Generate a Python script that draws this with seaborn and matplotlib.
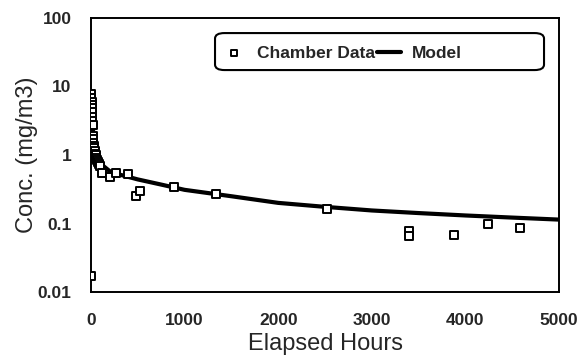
import numpy as np
import pandas as pd
import matplotlib
matplotlib.use('Agg')
import matplotlib.pyplot as plt
import seaborn as sns
from matplotlib.patches import FancyBboxPatch
from matplotlib.ticker import FixedLocator, FixedFormatter, NullLocator

sns.set_theme(style='white')
plt.rcParams['font.family'] = ['Liberation Sans', 'DejaVu Sans']

# Chamber measurements (hours, mg/m3)
chamber_hours = [5, 5, 8, 10, 10, 12, 15, 15, 18, 20, 22, 25, 30, 35, 40, 45,
                 50, 55, 60, 70, 85, 100, 120, 200, 270, 390, 485, 520, 890,
                 1340, 2520, 3400, 3400, 3880, 4240, 4580, 5]
chamber_conc = [7.8, 6.8, 6.0, 5.4, 4.8, 4.2, 3.6, 3.1, 2.7, 1.9, 1.7, 1.5, 1.35,
                1.25, 1.15, 1.05, 1.0, 0.9, 0.85, 0.8, 0.75, 0.68, 0.55, 0.48,
                0.55, 0.53, 0.25, 0.30, 0.34, 0.27, 0.165, 0.079, 0.066, 0.068,
                0.098, 0.085, 0.017]

# Model curve
model_hours = [0, 5, 10, 25, 50, 100, 200, 300, 500, 750, 1000, 1500, 2000,
               2500, 3000, 3500, 4000, 4500, 5000]
model_conc = [8.0, 5.5, 4.0, 2.0, 1.2, 0.75, 0.58, 0.52, 0.44, 0.37, 0.31,
              0.25, 0.20, 0.175, 0.155, 0.142, 0.131, 0.122, 0.114]

data = pd.DataFrame({'hours': chamber_hours, 'conc': chamber_conc})
model = pd.DataFrame({'hours': model_hours, 'conc': model_conc})

fig = plt.figure(figsize=(5.84, 3.58), dpi=100)
ax = fig.add_axes([91 / 584, 1 - 292 / 358, (559 - 91) / 584, (292 - 18) / 358])

sns.lineplot(data=model, x='hours', y='conc', ax=ax, color='black',
             linewidth=3, label='Model', zorder=2)
sns.scatterplot(data=data, x='hours', y='conc', ax=ax, marker='s', s=26,
                facecolor='white', edgecolor='black', linewidth=1.4,
                label='Chamber Data', zorder=3)

ax.set_yscale('log')
ax.set_xlim(0, 5000)
ax.set_ylim(0.01, 100)
ax.yaxis.set_major_locator(FixedLocator([0.01, 0.1, 1, 10, 100]))
ax.yaxis.set_major_formatter(FixedFormatter(['0.01', '0.1', '1', '10', '100']))
ax.yaxis.set_minor_locator(NullLocator())
ax.set_xticks([0, 1000, 2000, 3000, 4000, 5000])
ax.tick_params(axis='x', length=0, labelsize=12.5, pad=15)
ax.tick_params(axis='y', length=0, labelsize=12.5, pad=14)
for lbl in ax.get_xticklabels() + ax.get_yticklabels():
    lbl.set_fontweight('bold')

for sp in ax.spines.values():
    sp.set_color('black')
    sp.set_linewidth(1.4)

ax.set_xlabel('Elapsed Hours', fontsize=17, labelpad=4)
ax.set_ylabel('Conc. (mg/m3)', fontsize=17, labelpad=0)

# legend: entries on the left, rounded frame drawn wider as in the original
handles, labels = ax.get_legend_handles_labels()
order = [labels.index('Chamber Data'), labels.index('Model')]
leg = ax.legend([handles[i] for i in order], [labels[i] for i in order],
                ncol=2, loc='center left', bbox_to_anchor=(0.262, 0.872),
                frameon=False, prop={'weight': 'bold', 'size': 12.5},
                handlelength=1.4, columnspacing=0.1, handletextpad=0.6,
                borderpad=0.0, markerscale=0.9)
frame = FancyBboxPatch((0.265, 0.81), 0.703, 0.135, transform=ax.transAxes,
                       boxstyle='round,pad=0,rounding_size=0.02',
                       facecolor='white', edgecolor='black', linewidth=1.5,
                       zorder=4)
ax.add_patch(frame)
leg.set_zorder(5)

fig.savefig('out.png', dpi=100)
